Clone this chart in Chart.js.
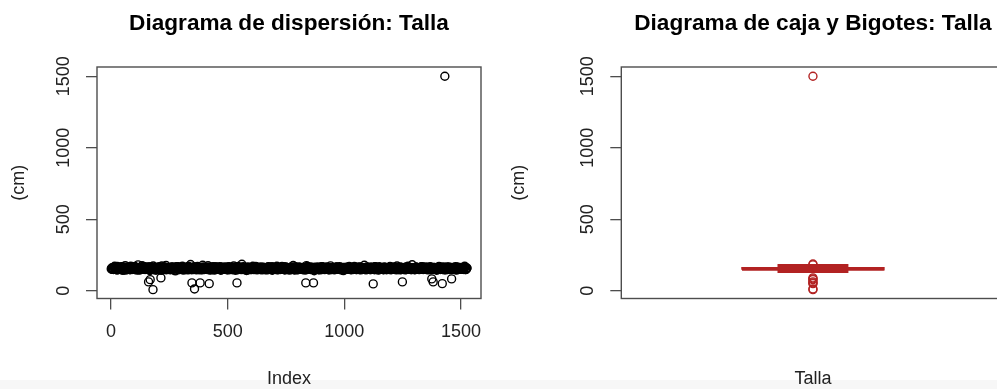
<!DOCTYPE html>
<html>
<head>
<meta charset="utf-8">
<script src="https://cdn.jsdelivr.net/npm/chart.js@4.4.1/dist/chart.umd.min.js"></script>
<style>
  html, body { margin: 0; padding: 0; background: #fff; overflow: hidden; }
  #wrap { position: relative; width: 997px; height: 389px; overflow: hidden; }
  #strip { position: absolute; left: 0; top: 380px; width: 997px; height: 9px; background: #f7f7f7; }
  canvas { position: absolute; top: 0; }
</style>
</head>
<body>
<div id="wrap">
  <div id="strip"></div>
  <canvas id="scatterTalla" width="500" height="389" style="left:0"></canvas>
  <canvas id="boxTalla" width="510" height="389" style="left:500px"></canvas>
</div>
<script>
// Talla (cm) de la banda principal: tres tandas, cada una con un valor cada 5 índices
// (A empieza en el índice 1, B en el 3, C en el 5)
const bandStep = 5;
const bandValuesA = [
  152,160,148,171,155,145,163,158,150,167, 142,156,175,149,161,153,146,168,157,151,
  164,147,159,180,144,155,162,150,170,148, 158,153,166,141,157,149,172,154,160,145,
  151,168,156,143,163,158,147,176,152,161, 155,146,165,150,159,138,167,153,148,162,
  157,171,144,160,152,166,149,155,183,146, 163,150,158,145,169,154,160,147,156,165,
  148,162,153,174,151,144,159,166,150,157, 161,149,156,168,143,155,163,152,158,147,
  154,167,150,160,146,172,153,159,145,164, 158,151,185,148,162,155,141,166,153,160,
  147,163,156,150,170,145,158,152,165,149, 160,153,146,161,155,168,150,157,143,164,
  152,159,171,147,156,162,149,154,167,145, 163,150,158,144,160,153,176,148,157,151,
  146,165,152,159,150,163,145,156,169,153, 157,148,162,154,139,160,151,166,148,158,
  150,168,155,147,163,152,158,145,173,156, 161,146,153,165,150,157,148,162,155,140,
  155,163,149,158,170,151,160,147,156,164, 148,157,166,152,145,161,154,178,150,159,
  162,151,147,164,156,149,167,153,158,144, 153,160,155,148,165,157,146,161,152,169,
  146,158,163,150,155,172,148,159,154,162, 159,152,145,166,151,160,156,147,181,153,
  150,164,158,153,147,162,155,168,149,157, 165,149,154,160,146,158,151,163,155,143,
  152,170,148,157,162,150,159,145,166,154, 158,147,161,152,156,168,144,160,153,149,
  163,155,150,171,147,158
];
const bandValuesB = [
  158,149,163,152,146,170,155,160,147,164, 151,157,144,166,153,159,148,162,156,150,
  169,145,158,153,161,147,174,152,157,163, 149,156,160,143,167,154,150,158,146,161,
  155,162,148,172,151,157,164,146,159,153, 160,150,166,155,142,158,152,168,147,156,
  163,154,149,161,157,145,170,153,159,150, 148,165,156,151,162,146,158,154,178,152,
  157,149,163,155,147,160,152,168,144,159, 153,161,150,157,165,148,155,162,151,146,
  166,152,158,149,161,155,143,164,157,150, 159,147,153,167,151,160,156,145,162,154,
  150,171,147,158,153,163,149,156,160,145, 164,152,157,148,166,155,151,161,146,158,
  153,160,145,163,150,157,169,152,148,162, 155,147,159,154,165,150,158,144,161,156,
  149,163,152,160,146,157,154,175,151,158, 162,150,156,147,164,153,160,149,157,145,
  168,155,150,159,152,161,146,163,154,157, 151,160,148,166,155,152,159,145,162,150,
  157,153,164,149,158,146,161,155,170,152, 147,160,154,151,163,156,149,158,145,165,
  152,158,147,162,155,150,167,153,159,148, 161,154,157,146,163,151,156,160,149,158,
  164,150,155,161,145,157,152,166,148,159, 153,162,149,156,171,150,158,147,160,154,
  146,165,152,158,150,163,155,148,161,157, 151,159,146,168,153,156,162,149,155,160,
  148,157,164,151,159,145,162,154,150,166, 155,149,161,153,158,147,163,152,157,150,
  160,153,148,165,156
];
const bandValuesC = [
  149,157,165,151,160,146,155,162,153,168, 147,159,152,163,150,156,171,148,158,154,
  161,150,145,159,155,164,151,157,149,162, 153,166,147,158,152,160,156,144,163,151,
  158,146,160,154,168,149,156,151,163,147, 155,161,152,158,145,166,153,159,150,164,
  148,157,162,151,155,160,147,163,154,158, 166,152,149,157,160,150,163,145,156,161,
  152,158,147,164,154,150,161,156,149,167, 158,151,163,146,155,159,152,166,150,157,
  145,160,155,152,163,148,158,154,170,151, 156,164,149,159,146,157,153,161,152,148,
  162,155,151,166,157,150,160,147,155,163, 149,158,153,145,162,156,151,167,154,159,
  157,150,164,152,148,161,155,159,146,165, 153,160,150,157,163,149,154,168,152,147,
  160,156,149,162,153,158,145,164,151,157, 166,150,155,161,148,159,153,146,163,155,
  151,162,157,149,165,152,158,154,147,160, 156,148,163,155,150,167,153,159,145,162,
  154,159,150,157,164,148,160,152,156,149, 161,155,147,166,153,158,151,163,150,157,
  149,164,155,152,159,146,162,157,153,168, 150,156,161,148,155,163,152,158,147,160,
  157,151,166,153,149,160,155,145,162,158, 152,159,148,164,156,150,161,154,157,147,
  163,150,156,159,152,167,149,158,155,161, 146,157,153,164,150,158,152,160,147,155,
  162,154,149,157,165,151,158,153,160,148, 156,163,150,155,159,152,166,149,157,154,
  151,159,162,148,156
];

// puntos alejados de la banda
const outlierIndex = [161, 168, 180, 214, 347, 358, 382, 421, 540, 835, 868, 1124, 1249, 1375, 1381, 1420, 1431, 1460];
const outlierValue = [61, 77, 7, 89, 54, 12, 54, 49, 54, 54, 54, 47, 61, 82, 61, 49, 1500, 82];

// marcas de los ejes
const xTickValues = [0, 500, 1000, 1500];
const yTickValues = [0, 500, 1000, 1500];

// caja: bigote inferior, Q1, mediana, Q3, bigote superior
const boxStats = [135, 146, 152, 159, 176];
const boxOutliers = [1500, 186, 180, 89, 82, 77, 61, 54, 49, 12, 7];

const FONT = '"Liberation Sans", Arial, Helvetica, sans-serif';
const INK = '#4d4d4d';
const RED = '#b22222';

const rFrame = {
  id: 'rFrame',
  afterDraw(chart, args, opts) {
    const { ctx, chartArea: a, scales } = chart;
    ctx.save();
    ctx.strokeStyle = INK;
    ctx.lineWidth = 1.4;
    ctx.strokeRect(a.left, a.top, a.right - a.left, a.bottom - a.top);

    ctx.fillStyle = '#000';
    ctx.font = 'bold 22.6px ' + FONT;
    ctx.textAlign = 'center';
    ctx.textBaseline = 'alphabetic';
    ctx.fillText(opts.title, (a.left + a.right) / 2, 30);

    // etiquetas del eje y giradas, como en R
    const y = scales.y;
    ctx.font = '18px ' + FONT;
    ctx.fillStyle = '#222';
    ctx.textBaseline = 'middle';
    y.ticks.forEach(t => {
      ctx.save();
      ctx.translate(a.left - 33, y.getPixelForValue(t.value));
      ctx.rotate(-Math.PI / 2);
      ctx.fillText(String(t.value), 0, 0);
      ctx.restore();
    });
    ctx.restore();
  }
};

const fixTicks = values => s => { s.ticks = values.map(v => ({ value: v })); };

function yAxis(width) {
  return {
    type: 'linear', min: -55, max: 1565,
    ticks: { display: false },
    afterBuildTicks: fixTicks(yTickValues),
    grid: { drawOnChartArea: false, drawTicks: true, tickLength: 11, color: INK, lineWidth: 1.3 },
    border: { display: false },
    title: { display: true, text: '(cm)', color: '#222',
             font: { family: FONT, size: 18, lineHeight: 1 }, padding: { top: 10, bottom: 0 } },
    afterFit(s) { s.width = width; }
  };
}

function xTitle(text) {
  return { display: true, text: text, color: '#222',
           font: { family: FONT, size: 18, lineHeight: 1 }, padding: { top: 0, bottom: 0.5 } };
}

const bandPoints = (values, start) => values.map((v, i) => ({ x: start + i * bandStep, y: v }));
const scatterPoints = bandPoints(bandValuesA, 1)
  .concat(bandPoints(bandValuesB, 3))
  .concat(bandPoints(bandValuesC, 5))
  .concat(outlierIndex.map((x, i) => ({ x: x, y: outlierValue[i] })));

new Chart('scatterTalla', {
  type: 'scatter',
  data: {
    datasets: [{
      data: scatterPoints,
      pointRadius: 4,
      pointBorderWidth: 1.4,
      pointBorderColor: '#000',
      pointBackgroundColor: 'rgba(0,0,0,0)'
    }]
  },
  options: {
    responsive: false,
    animation: false,
    events: [],
    layout: { padding: { left: 0, right: 19, top: 67, bottom: 0 } },
    scales: {
      x: {
        type: 'linear', min: -60, max: 1586,
        ticks: { color: '#222', font: { family: FONT, size: 18 },
                 padding: 12, maxRotation: 0, autoSkip: false, callback: v => String(v) },
        afterBuildTicks: fixTicks(xTickValues),
        grid: { drawOnChartArea: false, tickLength: 11, color: INK, lineWidth: 1.3 },
        border: { display: false },
        title: xTitle('Index'),
        afterFit(s) { s.height = 90.5; }
      },
      y: yAxis(97)
    },
    plugins: {
      legend: { display: false },
      tooltip: { enabled: false },
      rFrame: { title: 'Diagrama de dispersión: Talla' }
    }
  },
  plugins: [rFrame]
});

const hw = 0.185, sw = 0.0925;
const [wLo, q1, med, q3, wHi] = boxStats;
const seg = (pts, extra) => Object.assign({
  data: pts, showLine: true, pointRadius: 0, borderColor: RED, borderWidth: 1.6
}, extra || {});

new Chart('boxTalla', {
  type: 'scatter',
  data: {
    datasets: [
      {
        data: boxOutliers.map(v => ({ x: 1, y: v })),
        pointRadius: 4, pointBorderWidth: 1.4, pointBorderColor: RED, pointBackgroundColor: 'rgba(0,0,0,0)'
      },
      seg([{ x: 1 - hw, y: med }, { x: 1 + hw, y: med }], { borderWidth: 3 }),
      seg([{ x: 1 - hw, y: q1 }, { x: 1 + hw, y: q1 }, { x: 1 + hw, y: q3 }, { x: 1 - hw, y: q3 }, { x: 1 - hw, y: q1 }]),
      seg([{ x: 1, y: wLo }, { x: 1, y: q1 }], { borderDash: [3, 3] }),
      seg([{ x: 1, y: q3 }, { x: 1, y: wHi }], { borderDash: [3, 3] }),
      seg([{ x: 1 - sw, y: wLo }, { x: 1 + sw, y: wLo }], { borderWidth: 3.2 }),
      seg([{ x: 1 - sw, y: wHi }, { x: 1 + sw, y: wHi }], { borderWidth: 3.2 })
    ]
  },
  options: {
    responsive: false,
    animation: false,
    events: [],
    layout: { padding: { left: 0, right: 4.7, top: 67, bottom: 0 } },
    scales: {
      x: {
        type: 'linear', min: 0.5, max: 1.5,
        ticks: { display: false },
        grid: { display: false },
        border: { display: false },
        title: xTitle('Talla'),
        afterFit(s) { s.height = 90.5; }
      },
      y: yAxis(121.3)
    },
    plugins: {
      legend: { display: false },
      tooltip: { enabled: false },
      rFrame: { title: 'Diagrama de caja y Bigotes: Talla' }
    }
  },
  plugins: [rFrame]
});
</script>
</body>
</html>
